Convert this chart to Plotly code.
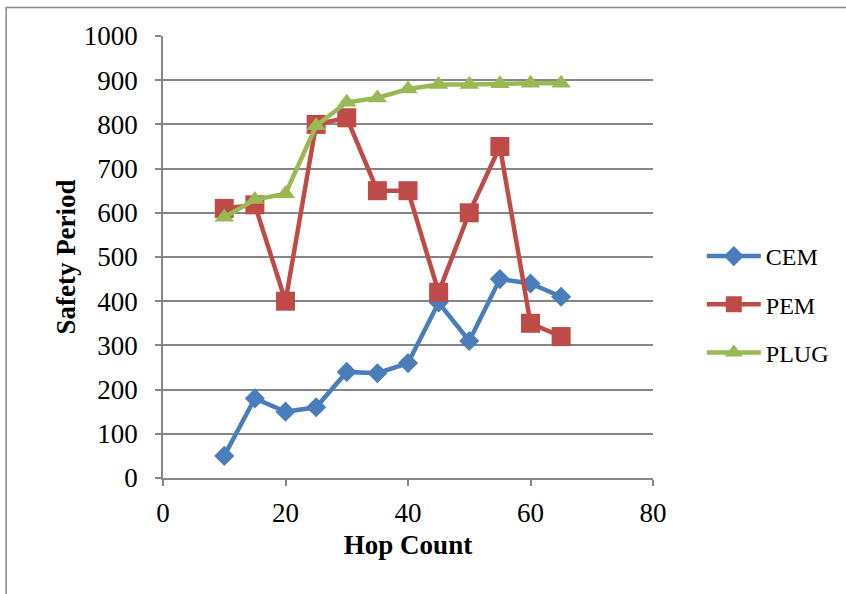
import plotly.graph_objects as go

hops = [10, 15, 20, 25, 30, 35, 40, 45, 50, 55, 60, 65]
cem = [50, 180, 150, 160, 240, 237, 260, 397, 310, 450, 440, 410]
pem = [610, 618, 400, 800, 815, 650, 650, 420, 600, 750, 350, 320]
plug = [590, 630, 643, 797, 850, 860, 880, 890, 890, 892, 893, 893]

series = [
    ("CEM", cem, "#4A7EBB", "diamond", 15.5),
    ("PEM", pem, "#BE4B48", "square", 19),
    ("PLUG", plug, "#98B954", "triangle-up", 17),
]

FONT = "Liberation Serif"
fig = go.Figure()
for i, (name, vals, color, sym, ms) in enumerate(series):
    fig.add_trace(go.Scatter(
        x=hops, y=vals, name=name, mode="lines+markers",
        line=dict(color=color, width=4.5),
        marker=dict(symbol=sym, size=ms, color=color),
        legendgroup=name,
    ))

L, R, T, B = 163, 191, 36, 116
W, H = 846, 594
pw, ph = W - L - R, H - T - B

fig.update_layout(
    width=W, height=H,
    margin=dict(l=L, r=R, t=T, b=B),
    paper_bgcolor="white", plot_bgcolor="white",
    font=dict(family=FONT, size=27, color="black"),
    legend=dict(
        x=(704 - L) / pw, y=(H - B - 234) / ph, yanchor="top", xanchor="left",
        traceorder="grouped", tracegroupgap=14,
        font=dict(family=FONT, size=24), itemwidth=54,
        bgcolor="rgba(0,0,0,0)",
    ),
    xaxis=dict(
        range=[0, 80], dtick=20, tick0=0,
        showgrid=False, zeroline=False,
        showline=True, linecolor="#868686", linewidth=1.5,
        ticks="outside", ticklen=6, tickcolor="#868686", tickwidth=1.5,
        ticklabelstandoff=4,
        tickfont=dict(size=27),
        title=dict(text="<b>Hop Count</b>", font=dict(family=FONT, size=27), standoff=8),
    ),
    yaxis=dict(
        range=[0, 1000], dtick=100, tick0=0,
        showgrid=True, gridcolor="#868686", gridwidth=1.5, zeroline=False,
        showline=True, linecolor="#868686", linewidth=1.5,
        ticks="outside", ticklen=6, tickcolor="#868686", tickwidth=1.5,
        ticklabelstandoff=12,
        tickfont=dict(size=27),
        title=dict(text="<b>Safety Period</b>", font=dict(family=FONT, size=27), standoff=0),
    ),
    showlegend=True,
)

# outer chart border (extends beyond right/bottom of the image)
fig.add_shape(
    type="rect", xref="paper", yref="paper",
    x0=(5.5 - L) / pw, x1=(W + 10 - L) / pw,
    y0=-(H + 10 - T - ph) / ph, y1=(H - 7.5 - B) / ph,
    line=dict(color="#868686", width=1.5), fillcolor="rgba(0,0,0,0)", layer="below",
)

fig.write_html("out.html")
